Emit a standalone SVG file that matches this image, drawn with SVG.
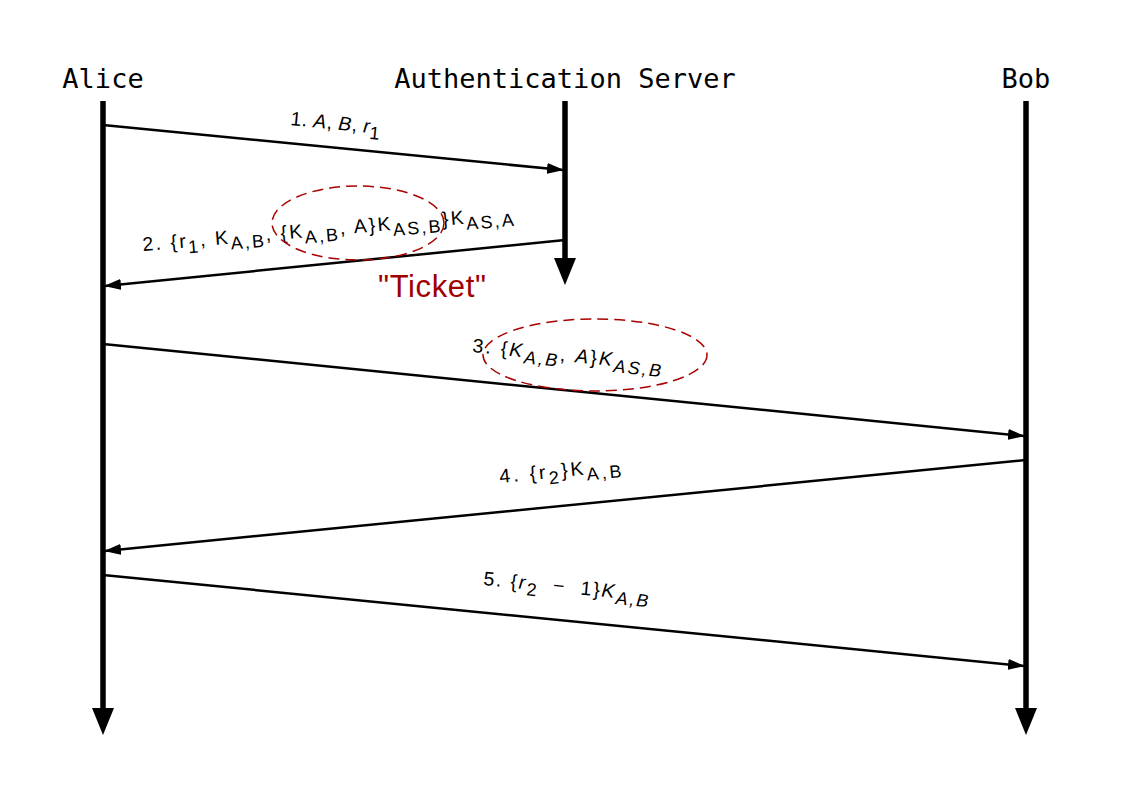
<svg xmlns="http://www.w3.org/2000/svg" width="1130" height="803" viewBox="0 0 1130 803">
<style>
.actor{font-family:"DejaVu Sans Mono","Liberation Mono",monospace;font-size:27px;fill:#000;text-anchor:middle}
.life{stroke:#000;stroke-width:5.5;fill:none}
.msg{stroke:#000;stroke-width:2.5;fill:none}
.lbl{font-family:"Liberation Sans",Arial,sans-serif;font-size:19.5px;fill:#000}
.it{font-style:italic}
.sub{font-size:18px}
.ell{fill:none;stroke:#aa0000;stroke-width:1.5;stroke-dasharray:11 6}
.ticket{font-family:"Liberation Sans",Arial,sans-serif;font-size:31px;fill:#a00000}
</style>
<defs>
<marker id="big" markerUnits="userSpaceOnUse" markerWidth="28" markerHeight="24" refX="0" refY="11" orient="auto" viewBox="0 0 28 24">
<path d="M0,0 L27,11 L0,22 Z" fill="#000"/>
</marker>
<marker id="small" markerUnits="userSpaceOnUse" markerWidth="18" markerHeight="12" refX="16" refY="6" orient="auto" viewBox="0 0 18 12">
<path d="M0,0.5 L17,6 L0,11.5 Z" fill="#000"/>
</marker>
</defs>
<rect width="1130" height="803" fill="#fff"/>
<g id="alice">
<text class="actor" x="103" y="88">Alice</text>
</g>
<g id="server">
<text class="actor" x="565" y="88">Authentication Server</text>
</g>
<g id="bob">
<text class="actor" x="1026" y="88">Bob</text>
</g>
<g id="lifelines">
<line class="life" x1="103" y1="101" x2="103" y2="708" marker-end="url(#big)"/>
<line class="life" x1="565" y1="101" x2="565" y2="258" marker-end="url(#big)"/>
<line class="life" x1="1026" y1="101" x2="1026" y2="708" marker-end="url(#big)"/>
</g>
<g id="connectors">
<line class="msg" x1="103" y1="125" x2="563" y2="170" marker-end="url(#small)"/>
<line class="msg" x1="565" y1="240" x2="105" y2="286" marker-end="url(#small)"/>
<line class="msg" x1="103" y1="344" x2="1024" y2="436" marker-end="url(#small)"/>
<line class="msg" x1="1026" y1="460" x2="105" y2="551" marker-end="url(#small)"/>
<line class="msg" x1="103" y1="575" x2="1024" y2="666" marker-end="url(#small)"/>
</g>
<g id="labels">
<text class="lbl" transform="translate(290,125) rotate(5.6)" textLength="90" lengthAdjust="spacing" xml:space="preserve">1. <tspan class="it">A</tspan>, <tspan class="it">B</tspan>, <tspan class="it">r</tspan><tspan class="sub" dy="6">1</tspan></text>
<text class="lbl" transform="translate(143,251) rotate(-4.8)" textLength="372" lengthAdjust="spacing" xml:space="preserve">2. {r<tspan class="sub" dy="6">1</tspan><tspan dy="-6">, K</tspan><tspan class="sub" dy="6">A,B</tspan><tspan dy="-6">, {K</tspan><tspan class="sub" dy="6">A,B</tspan><tspan dy="-6">, A}K</tspan><tspan class="sub" dy="6">AS,B</tspan><tspan dy="-6">}K</tspan><tspan class="sub" dy="6">AS,A</tspan></text>
<text class="lbl" transform="translate(472,352) rotate(5.7)" textLength="190" lengthAdjust="spacing" xml:space="preserve">3. {<tspan class="it">K</tspan><tspan class="sub it" dy="6">A,B</tspan><tspan dy="-6">, </tspan><tspan class="it">A</tspan>}<tspan class="it">K</tspan><tspan class="sub it" dy="6">AS,B</tspan></text>
<text class="lbl" transform="translate(500,483) rotate(-5.6)" textLength="122" lengthAdjust="spacing" xml:space="preserve">4. {r<tspan class="sub" dy="6">2</tspan><tspan dy="-6">}K</tspan><tspan class="sub" dy="6">A,B</tspan></text>
<text class="lbl" transform="translate(483,585) rotate(5.6)" textLength="166" lengthAdjust="spacing" xml:space="preserve">5. {<tspan class="it">r</tspan><tspan class="sub" dy="6">2</tspan><tspan dy="-6">  −  1}</tspan><tspan class="it">K</tspan><tspan class="sub it" dy="6">A,B</tspan></text>
</g>
<g id="ticket">
<ellipse class="ell" cx="358" cy="223" rx="86" ry="37"/>
<ellipse class="ell" cx="595" cy="355" rx="112" ry="36"/>
<text class="ticket" x="378" y="297" textLength="108" lengthAdjust="spacing">"Ticket"</text>
</g>
</svg>
